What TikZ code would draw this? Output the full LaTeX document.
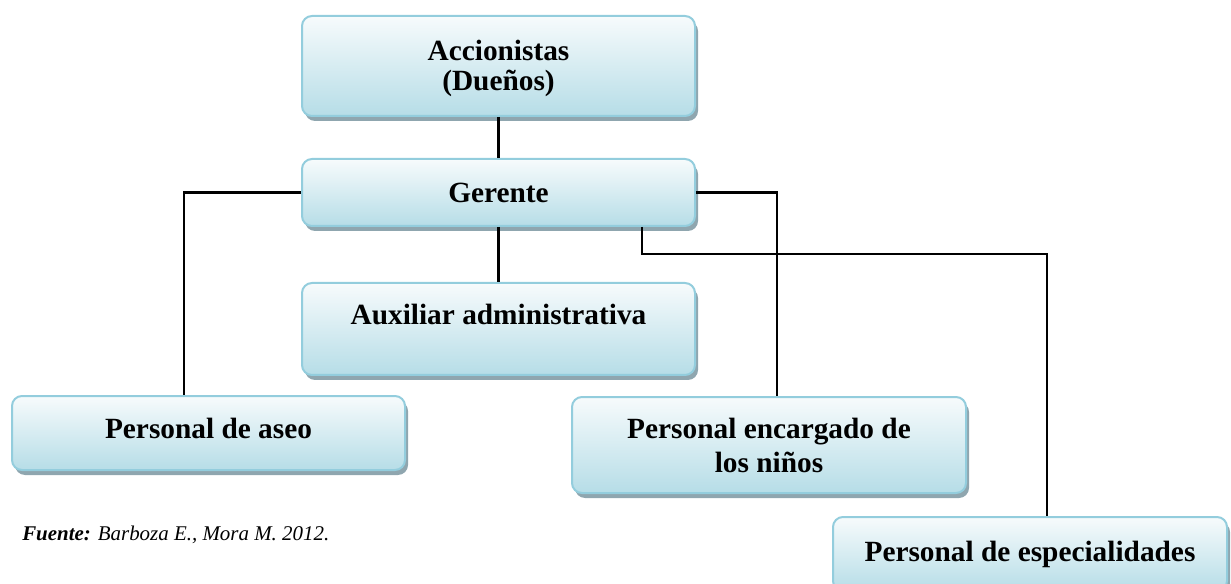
\documentclass[tikz,border=0pt]{standalone}
\usepackage{fontspec}
\setmainfont{Liberation Serif}
\usetikzlibrary{shadows}
\definecolor{boxtop}{HTML}{F7FBFC}
\definecolor{boxbot}{HTML}{B6DDE7}
\definecolor{boxline}{HTML}{93CDDD}
\definecolor{shadowc}{HTML}{8FA6AF}
\begin{document}
\begin{tikzpicture}[x=0.75pt,y=-0.75pt,
  orgbox/.style={rectangle, rounded corners=7.5pt, draw=boxline, line width=1.5pt,
    top color=boxtop, bottom color=boxbot,
    drop shadow={shadow xshift=2.25pt, shadow yshift=-3.75pt, fill=shadowc, opacity=1},
    font=\fontsize{22}{22.5}\selectfont\bfseries, align=center, inner sep=0pt,
    minimum width=294.75pt},
  conn/.style={line width=1.8pt, black}]
\useasboundingbox (0,0) rectangle (1231,584);
\node[orgbox, minimum height=75pt] (acc) at (498.5,66) {\raisebox{-2.6pt}[\height][\depth]{\begin{tabular}{@{}c@{}}Accionistas\\(Dueños)\end{tabular}}};
\node[orgbox, minimum height=50.25pt] (ger) at (498.5,192.5) {Gerente};
\node[orgbox, minimum height=69pt] (aux) at (498.5,329) {\raisebox{10.5pt}[\height][\depth]{Auxiliar administrativa}};
\node[orgbox, minimum height=55.5pt] (aseo) at (208.5,433) {\raisebox{3.75pt}[\height][\depth]{Personal de aseo}};
\node[orgbox, minimum height=72pt, minimum width=295.5pt] (enc) at (769,445) {Personal encargado de\\[3pt]los niños};
\node[orgbox, minimum height=55.5pt, minimum width=295.5pt] (esp) at (1030,554) {Personal de especialidades};
\draw[conn] (acc.south) -- (ger.north);
\draw[conn] (ger.south) -- (aux.north);
\draw[conn] (ger.west) -| ([xshift=-18.4pt]aseo.north);
\draw[conn] (ger.east) -| ([xshift=6pt]enc.north);
\draw[conn] ([xshift=107.6pt]ger.south) -- ++(0,27) -| ([xshift=12.75pt]esp.north);
\node[anchor=base west, inner sep=0pt, font=\fontsize{15.7}{18}\selectfont] (src) at (22,540)
  {\textbf{\textit{Fuente:}} \textit{Barboza E., Mora M. 2012.}};
\end{tikzpicture}
\end{document}
